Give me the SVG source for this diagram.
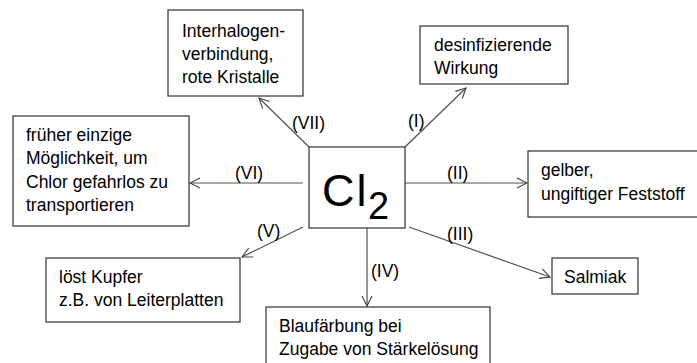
<svg xmlns="http://www.w3.org/2000/svg" width="697" height="363" viewBox="0 0 697 363">
<defs>
<marker id="arr" viewBox="0 0 12 12" refX="11" refY="6" markerWidth="12" markerHeight="12" markerUnits="userSpaceOnUse" orient="auto">
<path d="M1,1 L11,6 L1,11" fill="none" stroke="#404040" stroke-width="1.1"/>
</marker>
<style>
.box{fill:#fff;stroke:#303030;stroke-width:1.2}
.t{font-family:"Liberation Sans",Arial,sans-serif;font-size:17.5px;fill:#000}
.c{stroke:#505050;stroke-width:1.2;fill:none;marker-end:url(#arr)}
</style>
</defs>
<rect width="697" height="363" fill="#fff"/>
<g id="connectors">
<line class="c" x1="309" y1="147" x2="259" y2="98"/>
<line class="c" x1="405" y1="147" x2="466" y2="88"/>
<line class="c" x1="303" y1="183" x2="190" y2="183"/>
<line class="c" x1="405" y1="183" x2="527" y2="183"/>
<line class="c" x1="303" y1="227" x2="242" y2="257"/>
<line class="c" x1="409" y1="227" x2="550" y2="277"/>
<line class="c" x1="367" y1="228" x2="367" y2="306"/>
<text class="t" x="292" y="129">(VII)</text>
<text class="t" x="408" y="127">(I)</text>
<text class="t" x="235" y="179">(VI)</text>
<text class="t" x="447" y="179">(II)</text>
<text class="t" x="447" y="240">(III)</text>
<text class="t" x="371" y="277">(IV)</text>
<text class="t" x="257" y="237">(V)</text>
</g>
<g id="cl2">
<rect class="box" x="309" y="147" width="96" height="81"/>
<text font-family="'Liberation Sans',Arial,sans-serif" fill="#000"><tspan x="322" y="206" font-size="45">C</tspan><tspan x="356.5" y="206" font-size="45">l</tspan><tspan x="368" y="219" font-size="38">2</tspan></text>
</g>
<g id="n7">
<rect class="box" x="168" y="10" width="135" height="86"/>
<text class="t" x="182" y="37">Interhalogen-</text>
<text class="t" x="182" y="60">verbindung,</text>
<text class="t" x="182" y="83">rote Kristalle</text>
</g>
<g id="n1">
<rect class="box" x="420" y="26" width="148" height="58"/>
<text class="t" x="434" y="51">desinfizierende</text>
<text class="t" x="434" y="74">Wirkung</text>
</g>
<g id="n6">
<rect class="box" x="13" y="116" width="176" height="110"/>
<text class="t" x="26" y="141">früher einzige</text>
<text class="t" x="26" y="164">Möglichkeit, um</text>
<text class="t" x="26" y="188">Chlor gefahrlos zu</text>
<text class="t" x="26" y="211">transportieren</text>
</g>
<g id="n2">
<rect class="box" x="528" y="151" width="175" height="66"/>
<text class="t" x="541" y="176">gelber,</text>
<text class="t" x="541" y="200">ungiftiger Feststoff</text>
</g>
<g id="n5">
<rect class="box" x="46" y="258" width="194" height="64"/>
<text class="t" x="59" y="283">löst Kupfer</text>
<text class="t" x="59" y="306">z.B. von Leiterplatten</text>
</g>
<g id="n3">
<rect class="box" x="552" y="258" width="86" height="36"/>
<text class="t" x="564" y="283">Salmiak</text>
</g>
<g id="n4">
<rect class="box" x="266" y="307" width="224" height="62"/>
<text class="t" x="279" y="332">Blaufärbung bei</text>
<text class="t" x="279" y="355">Zugabe von Stärkelösung</text>
</g>
</svg>
